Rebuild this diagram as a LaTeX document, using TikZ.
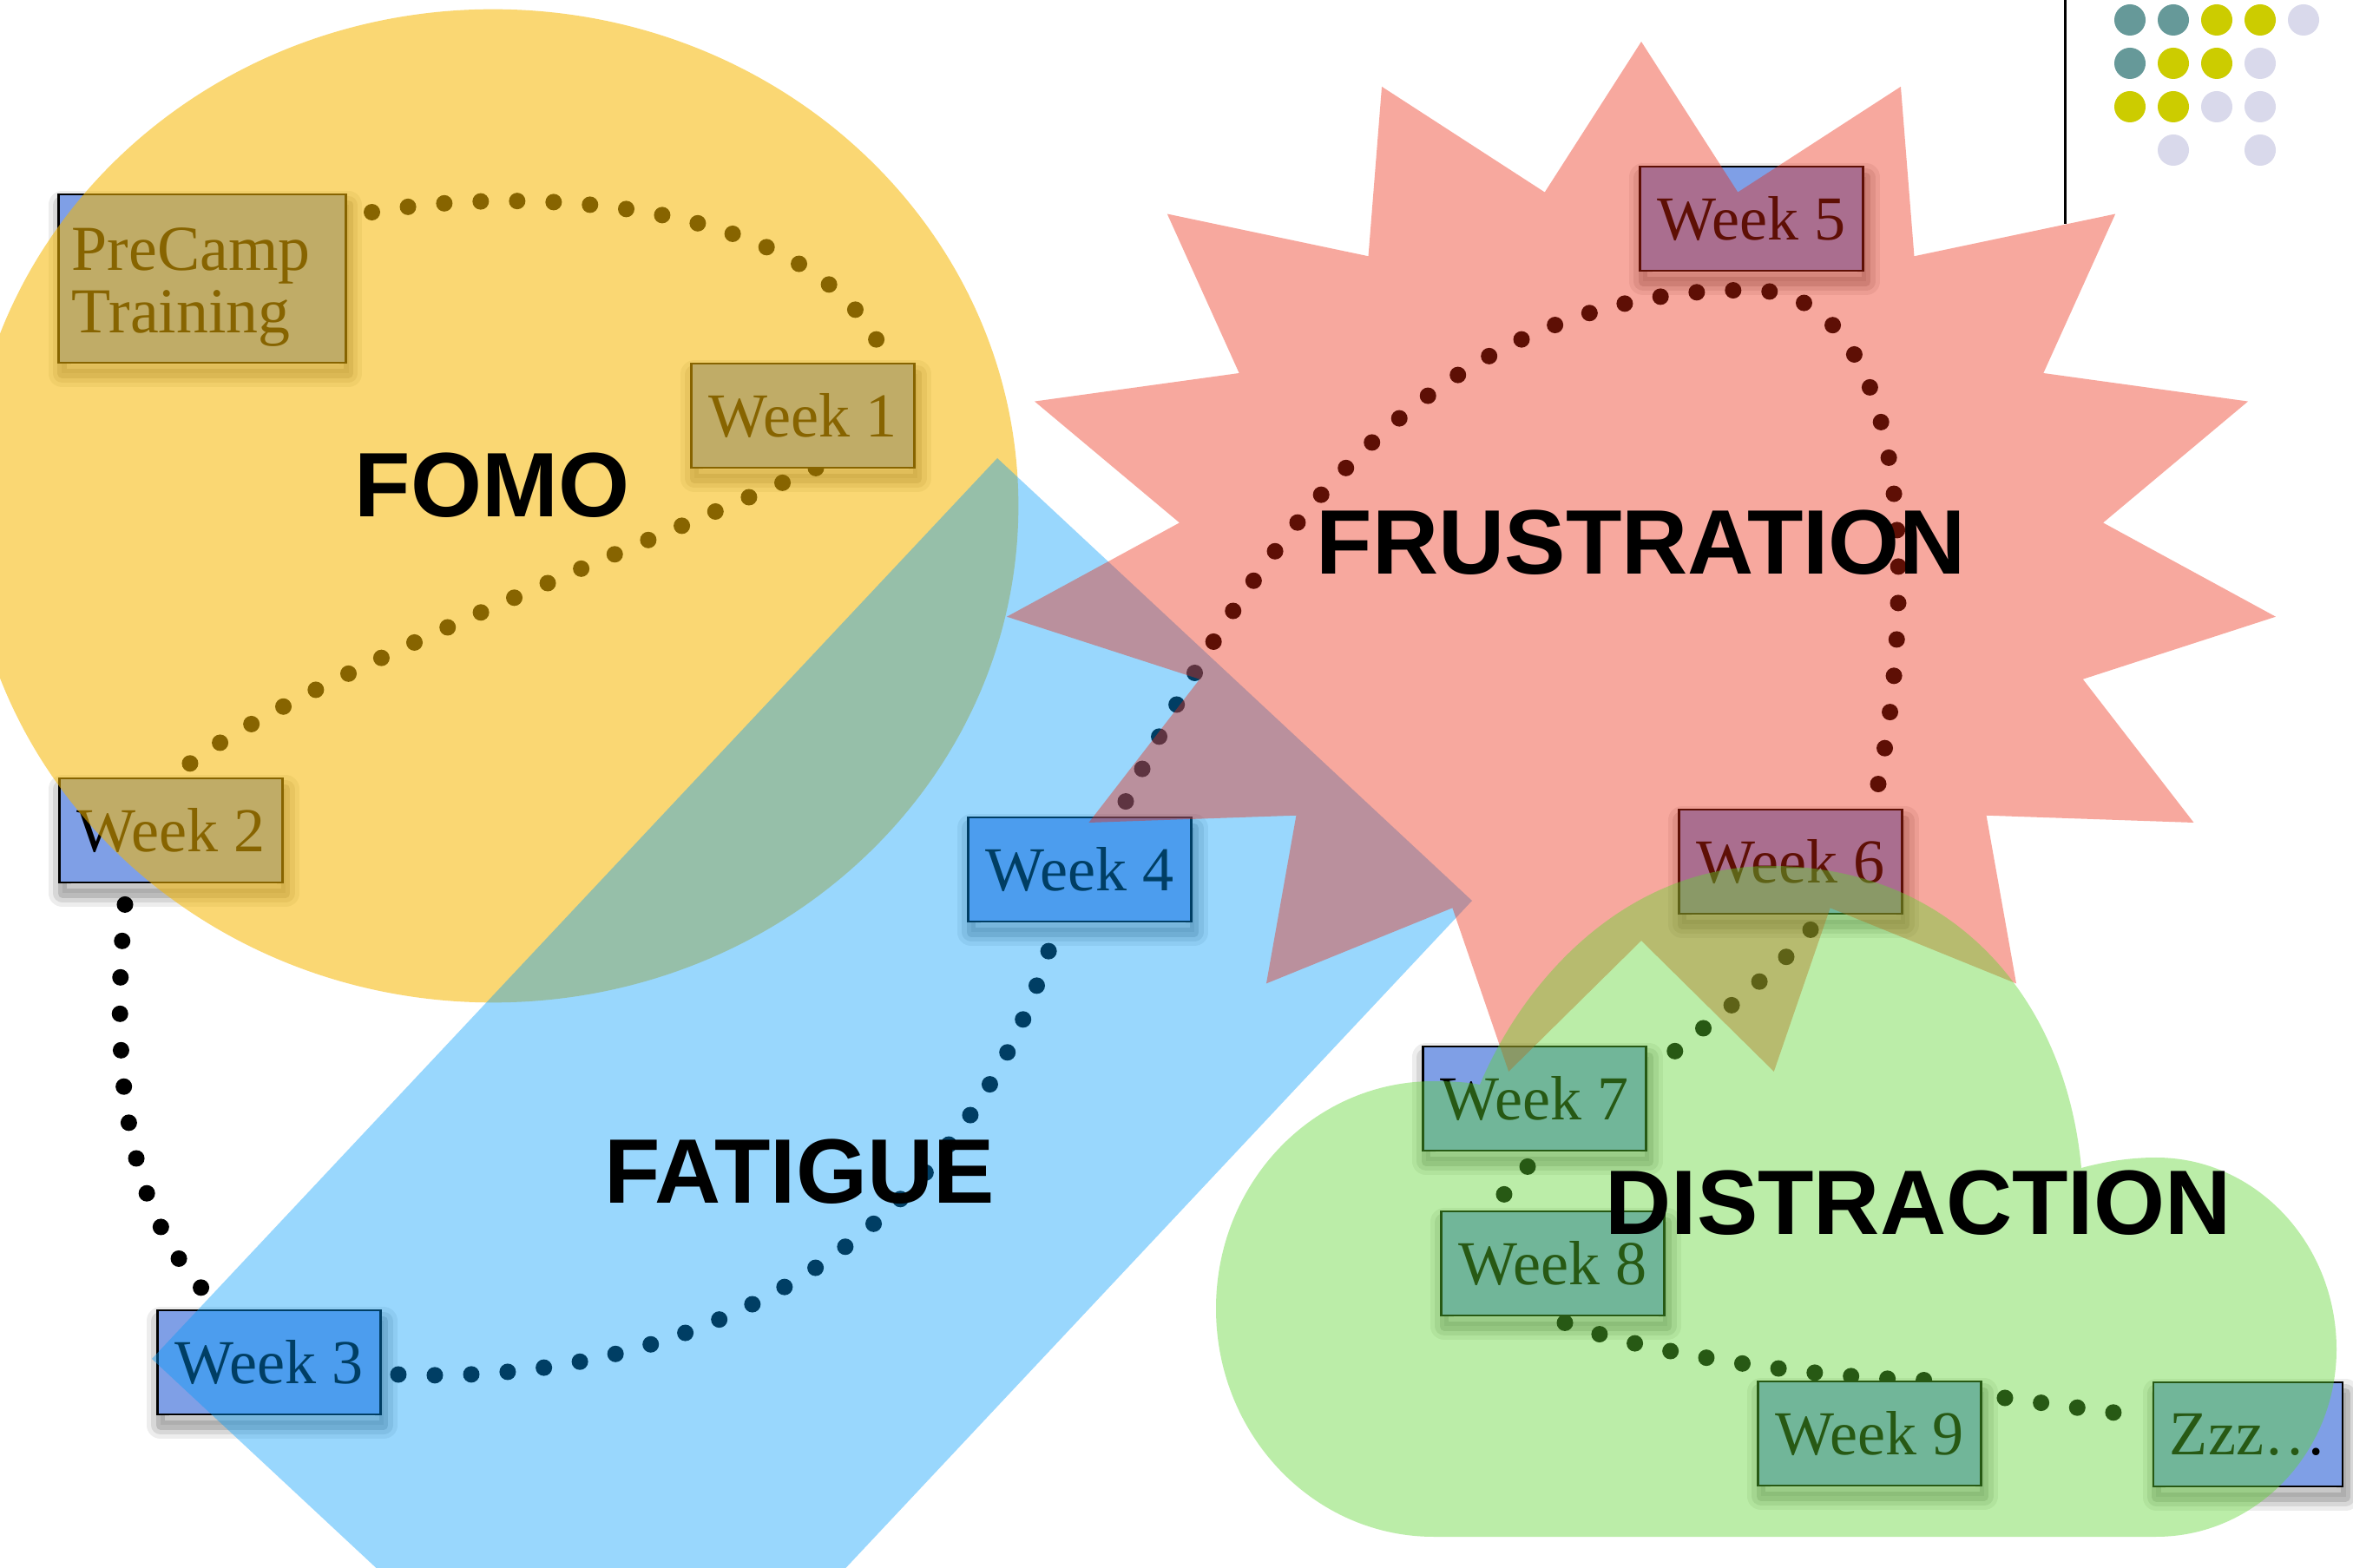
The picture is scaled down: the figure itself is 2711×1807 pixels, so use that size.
\documentclass[tikz,border=0pt]{standalone}
\usepackage{fontspec}
\setmainfont{Liberation Serif}
\newfontfamily\titlefont{Liberation Sans}
\usetikzlibrary{calc}
\definecolor{boxblue}{RGB}{127,159,230}
\definecolor{fomoY}{RGB}{246,183,0}
\definecolor{fatB}{RGB}{0,156,250}
\definecolor{frusR}{RGB}{236,38,13}
\definecolor{distG}{RGB}{95,214,48}
\definecolor{dotteal}{RGB}{102,153,153}
\definecolor{dotyellow}{RGB}{204,204,0}
\definecolor{dotlav}{RGB}{217,217,235}
\pgfdeclarelayer{back}
\pgfsetlayers{back,main}
\begin{document}
\begin{tikzpicture}[x=0.01cm,y=-0.01cm,
  wk/.style={draw=black, line width=0.8pt, fill=boxblue, minimum width=2.57cm, minimum height=1.2cm, inner sep=0pt,
    font=\fontsize{20.5}{20.5}\selectfont,
    preaction={draw=black, draw opacity=0.07, line width=9pt, fill=black, fill opacity=0.07, line join=round, transform canvas={xshift=1pt, yshift=-3.5pt}},
    preaction={draw=black, draw opacity=0.09, line width=6pt, line join=round, transform canvas={xshift=1pt, yshift=-3.5pt}},
    preaction={draw=black, draw opacity=0.13, line width=3pt, line join=round, transform canvas={xshift=1pt, yshift=-3.5pt}}},
  conn/.style={line width=0.19cm, line cap=round, dash pattern=on 0pt off 0.42cm},
  big/.style={inner sep=0pt, font=\titlefont\bfseries\fontsize{30}{30}\selectfont},
  yshape/.style={fill=fomoY, fill opacity=0.55},
  bshape/.style={fill=fatB, fill opacity=0.4},
  rshape/.style={fill=frusR, fill opacity=0.4},
  gshape/.style={fill=distG, fill opacity=0.42}]
\useasboundingbox (0,0) rectangle (2711,1807);
\clip (0,0) rectangle (2711,1807);
\begin{pgfonlayer}{back}
\fill[white] (0,0) rectangle (2711,1807);
\end{pgfonlayer}

% boxes
\node[wk, minimum width=3.3cm, minimum height=1.94cm] (pre) at (233,321)
  {\fontsize{21}{20.5}\selectfont\parbox{3.0cm}{\rule{0pt}{19.5pt}PreCamp\\Training}};
\node[wk] (w1) at (925,479) {Week 1};
\node[wk] (w2) at (197,957) {Week 2};
\node[wk] (w3) at (310,1570) {Week 3};
\node[wk] (w4) at (1244,1002) {Week 4};
\node[wk] (w5) at (2018,252) {Week 5};
\node[wk] (w6) at (2063,993) {Week 6};
\node[wk] (w7) at (1768,1266) {Week 7};
\node[wk] (w8) at (1789,1456) {Week 8};
\node[wk] (w9) at (2154,1652) {Week 9};
\node[wk, minimum width=2.18cm] (zzz) at (2590,1653) {Zzz…};

% connectors
\begin{pgfonlayer}{back}
\draw[conn] ($(pre.north east)+(29,22)$) .. controls +(173,-31) and +(-84,-171) .. ($(w1.north)+(89,-18)$);
\draw[conn] ($(w1.south)+(15,-1)$) .. controls +(-160,72) and +(117,-96) .. ($(w2.north)+(16,-11)$);
\draw[conn] ($(w2.south)+(-53,24)$) .. controls +(-19,209) and +(-110,-93) .. ($(w3.north)+(-50,3)$);
\draw[conn] ($(w3.east)+(19,14)$) .. controls +(332,14) and +(-104,365) .. ($(w4.south)+(-30,13)$);
\draw[conn] ($(w4.north)+(53,-17)$) .. controls +(123,-245) and +(-398,-4) .. ($(w5.south)+(0,21)$)
  .. controls +(197,0) and +(44,-199) .. ($(w6.north)+(98,-14)$);
\draw[conn] ($(w6.south)+(23,17)$) .. controls +(-36,49) and +(42,-37) .. ($(w7.east)+(1,-29)$);
\draw[conn] ($(w7.south)+(-8,17)$) .. controls +(-10,20) and +(15,-20) .. ($(w8.north)+(-86,13)$);
\draw[conn] ($(w8.south)+(14,7)$) .. controls +(97,37) and +(-120,-2) .. ($(w9.north)+(66,0)$);
\draw[conn] ($(w9.east)+(26,-41)$) -- ($(zzz.west)+(-6,-20)$);
\end{pgfonlayer}

% translucent shapes
\fill[yshape] (568,583) ellipse [x radius=6.05cm, y radius=5.72cm];
\fill[bshape] (1149,528) -- (1696,1038) -- (722,2076) -- (175,1566) -- cycle;
\fill[rshape] (1891,48) \foreach \i in {0,...,14} { -- ({1891+735*sin(24*\i)},{648-600*cos(24*\i)}) -- ({1891+535*sin(24*\i+12)},{648-436*cos(24*\i+12)}) } -- cycle;
\fill[gshape] (1652,1771) -- (2484,1771)
  .. controls (2599,1771) and (2692,1674) .. (2692,1555)
  .. controls (2692,1433) and (2599,1334) .. (2484,1334)
  .. controls (2450,1334) and (2420,1340) .. (2398,1346)
  .. controls (2380,1150) and (2250,998) .. (2040,998)
  .. controls (1880,998) and (1760,1120) .. (1705,1250)
  .. controls (1690,1247) and (1670,1246) .. (1652,1246)
  .. controls (1513,1246) and (1401,1363) .. (1401,1508)
  .. controls (1401,1653) and (1513,1771) .. (1652,1771) -- cycle;

% labels
\node[big] (fomo) at (567,559) {FOMO};
\node[big] (frus) at (1891,625) {FRUSTRATION};
\node[big] (fat) at (921,1350) {FATIGUE};
\node[big] (dist) at (2210,1386) {DISTRACTION};

% decoration top right
\draw[line width=0.03cm] (2379,0) -- (2379,258);
\foreach \x/\y/\c in {2454/23/dotteal, 2504/23/dotteal, 2554/23/dotyellow, 2604/23/dotyellow, 2654/23/dotlav,
  2454/73/dotteal, 2504/73/dotyellow, 2554/73/dotyellow, 2604/73/dotlav,
  2454/123/dotyellow, 2504/123/dotyellow, 2554/123/dotlav, 2604/123/dotlav,
  2504/173/dotlav, 2604/173/dotlav}
  \fill[\c] (\x,\y) circle [radius=0.18cm];
\end{tikzpicture}
\end{document}
